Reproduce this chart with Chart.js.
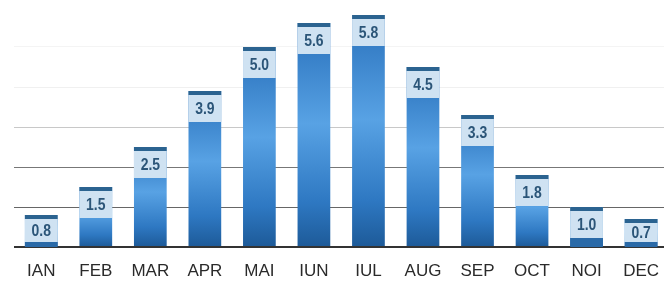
<!DOCTYPE html>
<html>
<head>
<meta charset="utf-8">
<script src="https://cdn.jsdelivr.net/npm/chart.js@4"></script>
<style>
  html, body { margin: 0; padding: 0; background: #fff; overflow: hidden; }
  canvas { display: block; }
</style>
</head>
<body>
<canvas id="chart" width="664" height="284"></canvas>
<script>
// Monthly values
const months = ["IAN", "FEB", "MAR", "APR", "MAI", "IUN", "IUL", "AUG", "SEP", "OCT", "NOI", "DEC"];
const values = [0.8, 1.5, 2.5, 3.9, 5.0, 5.6, 5.8, 4.5, 3.3, 1.8, 1.0, 0.7];
const valueLabels = ["0.8", "1.5", "2.5", "3.9", "5.0", "5.6", "5.8", "4.5", "3.3", "1.8", "1.0", "0.7"];

// bar body gradient, built per bar from the y scale
function barFill(context) {
    const chart = context.chart;
    const y = chart.scales.y;
    if (!chart.chartArea || !y) return "#3a86d0";
    const v = values[context.dataIndex];
    const top = y.getPixelForValue(v);
    const bottom = y.getPixelForValue(0);
    const g = chart.ctx.createLinearGradient(0, top, 0, bottom);
    g.addColorStop(0, "#2870bb");
    g.addColorStop(0.45, "#58a2e4");
    g.addColorStop(0.8, "#2e78c2");
    g.addColorStop(1, "#1d5a98");
    return g;
}

// cap, light label box and value on top of each bar
const labelBoxes = {
    id: "labelBoxes",
    afterDatasetsDraw(chart) {
        const ctx = chart.ctx;
        const meta = chart.getDatasetMeta(0);
        const base = chart.scales.y.getPixelForValue(0);
        meta.data.forEach((bar, i) => {
            const w = bar.width;
            const left = bar.x - w / 2;
            const top = bar.y;
            const h = base - top;
            const boxH = Math.min(31, h - 5);
            ctx.save();
            ctx.fillStyle = "#cfe2f2";
            ctx.fillRect(left, top, w, boxH);
            ctx.fillStyle = "#2b6390";
            ctx.fillRect(left, top, w, 4);
            if (h < 45) {
                ctx.fillStyle = "#2a6aa8";
                ctx.fillRect(left, top + boxH, w, h - boxH);
            }
            ctx.fillStyle = "#2b5578";
            ctx.font = "bold 17px 'Liberation Sans', Arial, sans-serif";
            ctx.textAlign = "center";
            ctx.textBaseline = "middle";
            ctx.translate(bar.x, top + 4 + (boxH - 4) / 2 + 1);
            ctx.scale(0.82, 1);
            ctx.fillText(valueLabels[i], 0, 0);
            ctx.restore();
        });
    }
};

new Chart(document.getElementById("chart").getContext("2d"), {
    type: "bar",
    data: {
        datasets: [{
            data: values.map((v, i) => ({ x: i, y: v })),
            backgroundColor: barFill,
            borderWidth: 0,
            barPercentage: 0.6,
            categoryPercentage: 1
        }]
    },
    options: {
        responsive: false,
        animation: false,
        layout: { padding: { left: 14, top: 7, right: 0, bottom: 0 } },
        plugins: { legend: { display: false }, tooltip: { enabled: false } },
        scales: {
            x: {
                type: "linear",
                min: -0.5,
                max: 11.42,
                offset: false,
                grid: { display: false, drawTicks: false },
                border: { display: false },
                afterFit: (scale) => {
                    scale.height = 37;
                    scale.paddingLeft = 0;
                    scale.paddingRight = 0;
                },
                ticks: {
                    stepSize: 1,
                    autoSkip: false,
                    maxRotation: 0,
                    includeBounds: false,
                    color: "#2a2a2a",
                    padding: 14,
                    font: { family: "'Liberation Sans', Arial, sans-serif", size: 17 },
                    callback: (v) => Number.isInteger(v) && months[v] ? months[v] : ""
                }
            },
            y: {
                min: 0,
                max: 6,
                border: { display: false },
                ticks: { display: false, stepSize: 1 },
                grid: {
                    drawTicks: false,
                    color: (c) => ["#333", "#666", "#777", "#c8c8c8", "#f0f0f0", "#f4f4f4", "rgba(0,0,0,0)"][c.index],
                    lineWidth: (c) => c.index === 0 ? 2 : 1
                }
            }
        }
    },
    plugins: [labelBoxes]
});
</script>
</body>
</html>
